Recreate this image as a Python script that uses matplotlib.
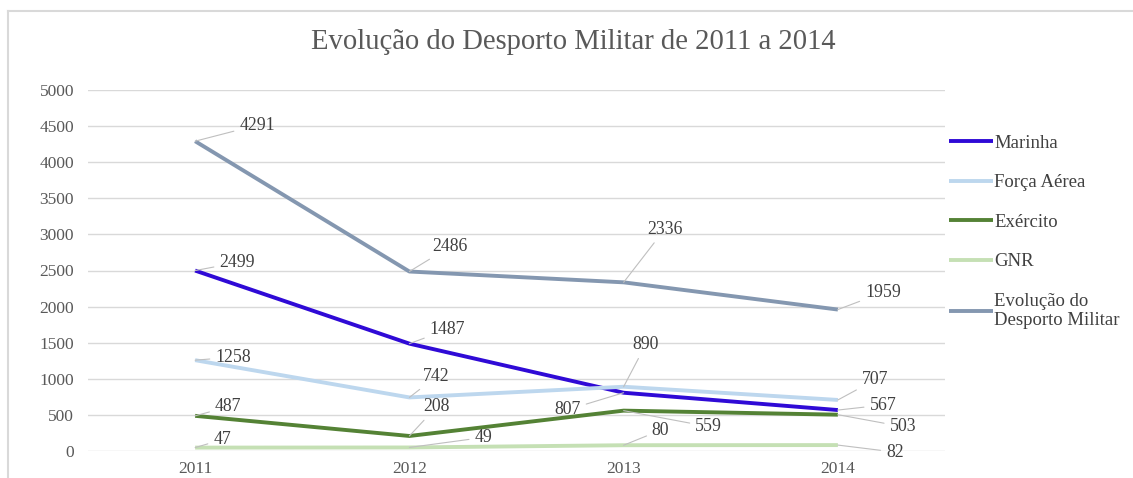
import matplotlib
matplotlib.use("Agg")
import matplotlib.pyplot as plt
from matplotlib.lines import Line2D

plt.rcParams['font.family'] = ['Liberation Serif', 'DejaVu Serif']

# data
years = ['2011', '2012', '2013', '2014']
marinha = [2499, 1487, 807, 567]
forca_aerea = [1258, 742, 890, 707]
exercito = [487, 208, 559, 503]
gnr = [47, 49, 80, 82]
evolucao = [4291, 2486, 2336, 1959]

series = [
    ('Marinha', marinha, '#2F0AD6'),
    ('Força Aérea', forca_aerea, '#BDD7EE'),
    ('Exército', exercito, '#548235'),
    ('GNR', gnr, '#C5E0B4'),
    ('Evolução do\nDesporto Militar', evolucao, '#8497B0'),
]

# label offsets in pixels (dx right, dy up) from each point
offsets = [
    [(42, 8), (38, 14), (-56, -17), (45, 5)],
    [(38, 3), (27, 21), (22, 42), (37, 20)],
    [(33, 9), (27, 29), (85, -16), (65, -12)],
    [(27, 8), (74, 10), (37, 15), (57, -7)],
    [(62, 16), (41, 25), (41, 53), (45, 17)],
]

fig = plt.figure(figsize=(11.33, 4.78), dpi=100)
ax = fig.add_axes([88 / 1133, 1 - 451 / 478, (945 - 88) / 1133, (451 - 90) / 478])

# chart frame (left and top edges)
fig.add_artist(Line2D([8 / 1133, 8 / 1133], [0, 1 - 11 / 478], transform=fig.transFigure,
                      color='#d9d9d9', lw=1.5))
fig.add_artist(Line2D([8 / 1133, 1], [1 - 11 / 478, 1 - 11 / 478], transform=fig.transFigure,
                      color='#d9d9d9', lw=1.5))

x = list(range(len(years)))
px2pt = 0.72
for (name, vals, col), offs in zip(series, offsets):
    ax.plot(x, vals, color=col, lw=2.8, label=name, solid_capstyle='butt', zorder=3)
    for xi, v, (dx, dy) in zip(x, vals, offs):
        ax.annotate(str(v), (xi, v), xytext=(dx * px2pt, dy * px2pt), textcoords='offset points',
                    ha='center', va='center', fontsize=12.8, color='#404040', zorder=4,
                    arrowprops=dict(arrowstyle='-', color='#bfbfbf', lw=0.8,
                                    shrinkA=2, shrinkB=0))

ax.set_xlim(-0.5, 3.5)
ax.set_ylim(0, 5000)
ax.set_yticks(range(0, 5001, 500))
ax.set_xticks(x)
ax.set_xticklabels(years)
ax.grid(axis='y', color='#d9d9d9', lw=1)
ax.set_axisbelow(True)
for s in ax.spines.values():
    s.set_visible(False)
ax.tick_params(length=0, labelsize=12.5, colors='#595959')
ax.tick_params(axis='y', pad=10)
ax.tick_params(axis='x', pad=7)

fig.text(573 / 1133, 1 - 42 / 478, 'Evolução do Desporto Militar de 2011 a 2014',
         ha='center', va='center', fontsize=20.6, color='#595959')

leg = ax.legend(loc='upper left', bbox_to_anchor=(940 / 1133, 1 - 125 / 478),
                bbox_transform=fig.transFigure, frameon=False, fontsize=13.5,
                handlelength=2.35, handletextpad=0.05, labelspacing=1.2, borderpad=0)
for t in leg.get_texts():
    t.set_color('#404040')

plt.savefig('out.png')
